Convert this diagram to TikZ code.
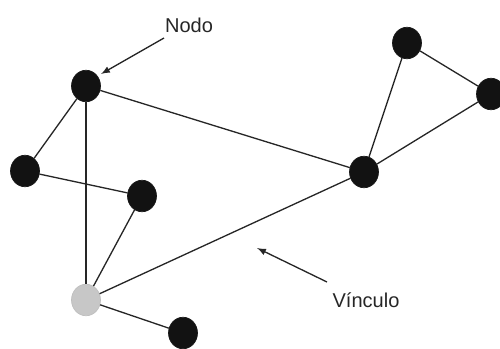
\documentclass[tikz,border=0pt]{standalone}
\usepackage{fontspec}
\setmainfont{Liberation Sans}
\usetikzlibrary{shapes,shapes.geometric,calc}

\begin{document}
\begin{tikzpicture}[x=0.02cm,y=-0.02cm]
	\tikzstyle{vert}=[ellipse, draw=black!90, line width=0.4pt, fill=black!93, minimum width=0.58cm, minimum height=0.63cm, inner sep=0pt]
	\tikzstyle{vertgray}=[vert, draw=black!25, fill=black!22]
	\tikzstyle{edge}=[draw=black!85, line width=0.75pt]
	\tikzstyle{callout}=[draw=black!85, line width=0.75pt, -latex]
	\tikzstyle{tag}=[font=\fontsize{11.4}{13}\selectfont, text=black!85, inner sep=0pt]
	\useasboundingbox (0,0) rectangle (500,348);
	% nodos
	\node[vert] (a) at (86,86) {};
	\node[vert] (b) at (25,171) {};
	\node[vert] (c) at (142,196) {};
	\node[vertgray] (d) at (86,300) {};
	\node[vert] (e) at (183,333) {};
	\node[vert] (f) at (364,172) {};
	\node[vert] (g) at (407,43) {};
	\node[vert] (h) at (491,94) {};
	% vinculos
	\draw[edge] (a) -- (b);
	\draw[edge] (a) -- (d);
	\draw[edge] (a) -- (f);
	\draw[edge] (b) -- (c);
	\draw[edge] (c) -- (d);
	\draw[edge] (d) -- (f);
	\draw[edge] (d) -- (e);
	\draw[edge] (f) -- (g);
	\draw[edge] (f) -- (h);
	\draw[edge] (g) -- (h);
	% etiquetas
	\node[tag] (nodo) at (189,25) {Nodo};
	\node[tag] (vinculo) at (366,300) {Vínculo};
	\coordinate (nodofrom) at (164,38);
	\coordinate (nodoto) at (101,74);
	\coordinate (vincfrom) at (327,282);
	\coordinate (vincto) at (257,248);
	\draw[callout] (nodofrom) -- (nodoto);
	\draw[callout] (vincfrom) -- (vincto);
\end{tikzpicture}
\end{document}
